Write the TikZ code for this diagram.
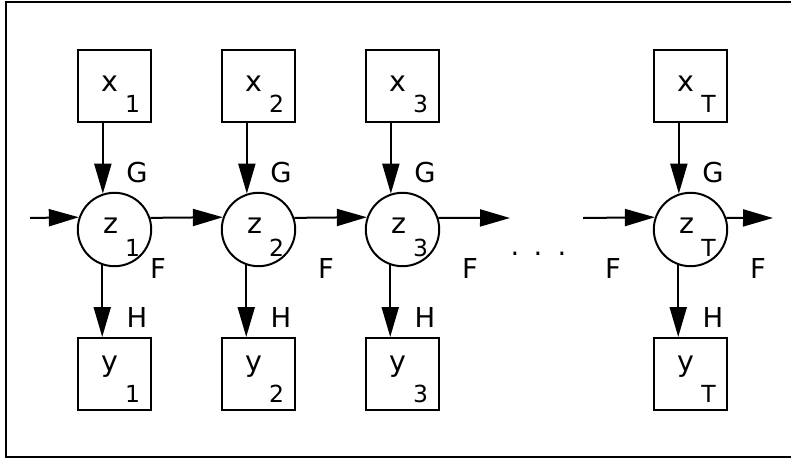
\documentclass[tikz,border=0pt]{standalone}
\usepackage{fontspec}
\setmainfont{DejaVu Sans}
\usetikzlibrary{arrows.meta}
\begin{document}
\begin{tikzpicture}[x=1pt,y=-1pt,line width=2pt,
  box/.style={draw, minimum width=73pt, minimum height=72pt, inner sep=0pt},
  state/.style={draw, circle, minimum size=73.4pt, inner sep=0pt},
  lab/.style={font=\fontsize{27.4}{30}\selectfont, inner sep=0pt},
  mainlet/.style={font=\fontsize{28.5}{30}\selectfont, inner sep=0pt, anchor=base},
  sublet/.style={font=\fontsize{23.5}{25}\selectfont, inner sep=0pt, anchor=base},
  arr/.style={-{Triangle[length=30pt,width=17pt]}}]
\useasboundingbox (0,0) rectangle (791,458);
\draw (791,2) -- (6,2) -- (6,457) -- (791,457);
\foreach \i/\c in {1/114.5, 2/258.5, 3/402.5, T/690.5}{
  \node[box] (x\i) at (\c,86) {};
  \node[state] (z\i) at (\c,229.5) {};
  \node[box] (y\i) at (\c,374) {};
  \node[mainlet] (xl\i) at (\c-4.5,91) {x};
  \node[sublet] (xs\i) at (\c+18,112) {\i};
  \node[mainlet] (zl\i) at (\c-4,233) {z};
  \node[sublet] (zs\i) at (\c+18,256) {\i};
  \node[mainlet] (yl\i) at (\c-4.5,371) {y};
  \node[sublet] (ys\i) at (\c+18,402) {\i};
  \node[lab] (g\i) at (\c+22.5,173) {G};
  \node[lab] (h\i) at (\c+22.5,318) {H};
  \draw[arr] (z\i.108.3 |- x\i.south) -- (z\i.108.3);
  \draw[arr] (z\i.251.7) -- (z\i.251.7 |- y\i.north);
}
\node[lab] (f1) at (158,269) {F};
\node[lab] (f2) at (326,269) {F};
\node[lab] (f3) at (470,269) {F};
\node[lab] (f4) at (613,269) {F};
\node[lab] (f5) at (758,269) {F};
\node[lab,anchor=base] (d1) at (515,255) {.};
\node[lab,anchor=base] (d2) at (538,255) {.};
\node[lab,anchor=base] (d3) at (562,255) {.};
\coordinate (in0) at (30,218);
\coordinate (out3) at (510,218);
\coordinate (inT) at (583,218);
\coordinate (outT) at (773,218);
\draw[arr] (in0) -- (z1.161.7);
\draw[arr] (z1.18.3) -- (z2.161.7);
\draw[arr] (z2.18.3) -- (z3.161.7);
\draw[arr] (z3.18.3) -- (out3);
\draw[arr] (inT) -- (zT.161.7);
\draw[arr] (zT.18.3) -- (outT);
\end{tikzpicture}
\end{document}
